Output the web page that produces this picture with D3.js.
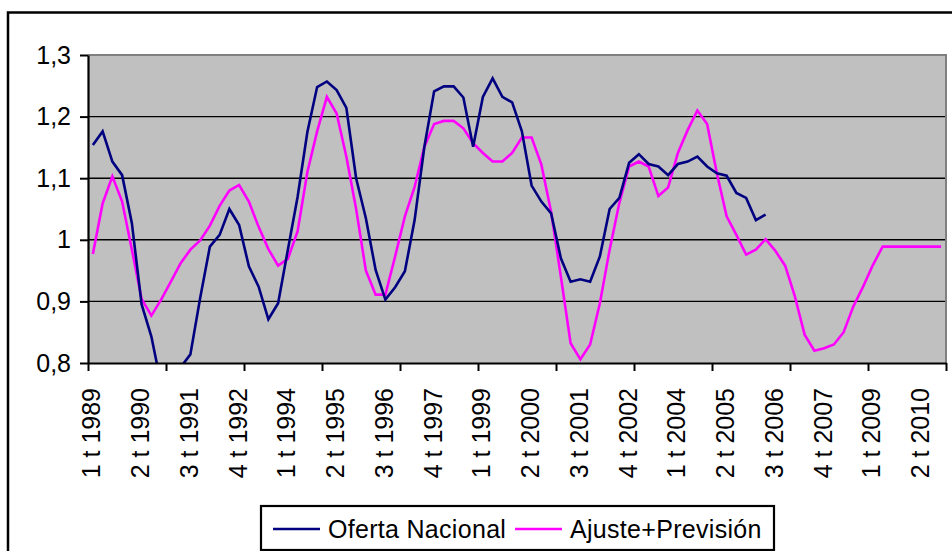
<!DOCTYPE html>
<html>
<head>
<meta charset="utf-8">
<script src="https://cdn.jsdelivr.net/npm/d3@7"></script>
<style>
  body { margin: 0; background: #fff; }
  svg { display: block; }
  text { font-family: "Liberation Sans", Arial, sans-serif; }
</style>
</head>
<body>
<div id="viz"></div>
<script>
const width = 952;
const height = 551;
const plot = { left: 88, right: 946, top: 55, bottom: 363 };

// categories: every quarter from 1989 to 2010
const years = d3.range(1989, 2011);
const quarters = [];
years.forEach(y => [1, 2, 3, 4].forEach(q => quarters.push(`${q} t ${y}`)));

const xLabels = ['1 t 1989', '2 t 1990', '3 t 1991', '4 t 1992', '1 t 1994', '2 t 1995',
  '3 t 1996', '4 t 1997', '1 t 1999', '2 t 2000', '3 t 2001', '4 t 2002', '1 t 2004',
  '2 t 2005', '3 t 2006', '4 t 2007', '1 t 2009', '2 t 2010'];

const yTicks = [0.8, 0.9, 1, 1.1, 1.2, 1.3];
const yTickLabels = ['0,8', '0,9', '1', '1,1', '1,2', '1,3'];

// Oferta Nacional (1 t 1989 .. 2 t 2006)
const oferta = [
  1.154, 1.176, 1.127, 1.105, 1.027, 0.895, 0.843, 0.765, 0.755, 0.793,
  0.814, 0.905, 0.989, 1.008, 1.050, 1.024, 0.957, 0.924, 0.871, 0.897,
  0.984, 1.070, 1.175, 1.248, 1.257, 1.243, 1.214, 1.100, 1.035, 0.951,
  0.903, 0.923, 0.949, 1.032, 1.151, 1.241, 1.249, 1.249, 1.231, 1.151,
  1.232, 1.262, 1.232, 1.223, 1.176, 1.088, 1.062, 1.043, 0.970, 0.932,
  0.936, 0.932, 0.973, 1.050, 1.068, 1.125, 1.139, 1.123, 1.119, 1.105,
  1.123, 1.127, 1.135, 1.119, 1.108, 1.104, 1.076, 1.068, 1.032, 1.041
];

// Ajuste+Previsión (1 t 1989 .. 4 t 2010)
const ajuste = [
  0.977, 1.059, 1.103, 1.062, 0.984, 0.904, 0.877, 0.903, 0.932, 0.962,
  0.984, 0.999, 1.023, 1.055, 1.080, 1.089, 1.062, 1.021, 0.985, 0.958,
  0.969, 1.014, 1.110, 1.176, 1.232, 1.205, 1.135, 1.050, 0.950, 0.911,
  0.911, 0.973, 1.038, 1.086, 1.151, 1.188, 1.193, 1.193, 1.181, 1.157,
  1.141, 1.127, 1.127, 1.141, 1.166, 1.166, 1.122, 1.045, 0.940, 0.832,
  0.806, 0.830, 0.897, 0.984, 1.060, 1.119, 1.127, 1.119, 1.071, 1.085,
  1.141, 1.178, 1.210, 1.188, 1.108, 1.038, 1.008, 0.976, 0.984, 1.001,
  0.982, 0.958, 0.908, 0.846, 0.820, 0.824, 0.830, 0.850, 0.892, 0.924,
  0.959, 0.989, 0.989, 0.989, 0.989, 0.989, 0.989, 0.989
];

const series = [
  { name: 'Oferta Nacional', values: oferta, color: '#000080' },
  { name: 'Ajuste+Previsión', values: ajuste, color: '#ff00ff' }
];

const svg = d3.create('svg')
  .attr('width', width)
  .attr('height', height);

// outer chart border
svg.append('rect')
  .attr('x', 8).attr('y', 12.5)
  .attr('width', 960).attr('height', 560)
  .attr('fill', '#fff')
  .attr('stroke', '#000')
  .attr('stroke-width', 2.5);

const x = d3.scaleBand()
  .domain(quarters)
  .range([plot.left, plot.right])
  .paddingInner(0)
  .paddingOuter(0);

const xIdx = d3.scaleLinear()
  .domain([0, quarters.length])
  .range([plot.left, plot.right]);

const y = d3.scaleLinear()
  .domain([0.8, 1.3])
  .range([plot.bottom, plot.top]);

const cx = d => x(d) + x.bandwidth() / 2;

// plot area
svg.append('rect')
  .attr('x', plot.left).attr('y', plot.top)
  .attr('width', plot.right - plot.left)
  .attr('height', plot.bottom - plot.top)
  .attr('fill', '#c0c0c0');

svg.append('defs').append('clipPath')
  .attr('id', 'clip')
  .append('rect')
  .attr('x', plot.left).attr('y', plot.top)
  .attr('width', plot.right - plot.left)
  .attr('height', plot.bottom - plot.top);

// gridlines
svg.append('g')
  .selectAll('line')
  .data(yTicks.slice(1, -1))
  .join('line')
  .attr('x1', plot.left).attr('x2', plot.right)
  .attr('y1', d => y(d)).attr('y2', d => y(d))
  .attr('stroke', '#000')
  .attr('stroke-width', 1.4);

// plot area border (top, right)
svg.append('path')
  .attr('d', `M${plot.left},${plot.top}H${plot.right}V${plot.bottom}`)
  .attr('fill', 'none')
  .attr('stroke', '#808080')
  .attr('stroke-width', 2);

// series lines
const line = d3.line()
  .x((d, i) => cx(quarters[i]))
  .y(d => y(d));

svg.append('g')
  .attr('clip-path', 'url(#clip)')
  .selectAll('path')
  .data(series.slice().reverse())
  .join('path')
  .attr('d', d => line(d.values))
  .attr('fill', 'none')
  .attr('stroke', d => d.color)
  .attr('stroke-width', 2.6)
  .attr('stroke-linejoin', 'miter');

// y axis
const yAxis = svg.append('g')
  .attr('transform', `translate(${plot.left},0)`)
  .call(d3.axisLeft(y)
    .tickValues(yTicks)
    .tickFormat((d, i) => yTickLabels[i])
    .tickSize(8)
    .tickSizeOuter(0)
    .tickPadding(9));

yAxis.select('.domain').attr('stroke', '#000').attr('stroke-width', 2.2);
yAxis.selectAll('.tick line').attr('stroke', '#000').attr('stroke-width', 2);
yAxis.selectAll('.tick text')
  .attr('fill', '#000')
  .style('font-size', '25px')
  .style('font-family', '"Liberation Sans", Arial, sans-serif');

// x axis: ticks every 8 quarters at category boundaries
const xAxis = svg.append('g')
  .attr('transform', `translate(0,${plot.bottom})`)
  .call(d3.axisBottom(xIdx)
    .tickValues(d3.range(0, quarters.length + 1, 8))
    .tickFormat('')
    .tickSize(8)
    .tickSizeOuter(0));

xAxis.select('.domain').attr('stroke', '#000').attr('stroke-width', 2.2);
xAxis.selectAll('.tick line').attr('stroke', '#000').attr('stroke-width', 2);

svg.append('g')
  .selectAll('text')
  .data(xLabels)
  .join('text')
  .attr('transform', d => `translate(${cx(d) - 1.2},388) rotate(-90)`)
  .attr('dy', '0.35em')
  .attr('text-anchor', 'end')
  .style('font-size', '25px')
  .attr('fill', '#000')
  .text(d => d);

// legend
const legend = svg.append('g');

legend.append('rect')
  .attr('x', 261).attr('y', 506)
  .attr('width', 513).attr('height', 44)
  .attr('fill', '#fff')
  .attr('stroke', '#000')
  .attr('stroke-width', 2.2);

const legendX = [273, 515];

const item = legend.selectAll('.legend-item')
  .data(series)
  .join('g')
  .attr('class', 'legend-item')
  .attr('transform', (d, i) => `translate(${legendX[i]},529)`);

item.append('line')
  .attr('x1', 0).attr('x2', 47)
  .attr('stroke', d => d.color)
  .attr('stroke-width', 2.6);

item.append('text')
  .attr('x', 55)
  .attr('y', 9)
  .style('font-size', '25px')
  .style('letter-spacing', '0.3px')
  .attr('fill', '#000')
  .text(d => d.name);

d3.select('#viz').node().appendChild(svg.node());
</script>
</body>
</html>
